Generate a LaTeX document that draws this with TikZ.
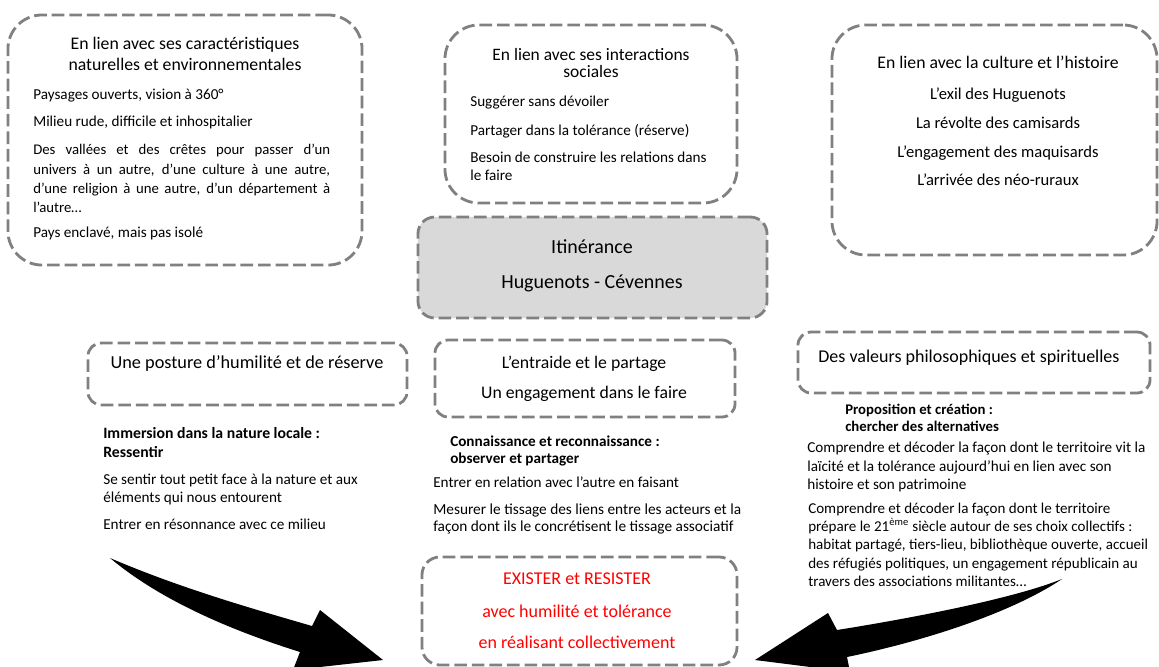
\documentclass[tikz,border=0pt]{standalone}
\usepackage{fontspec}
\setmainfont{Carlito}
\definecolor{boxgray}{HTML}{808080}
\definecolor{fillgray}{HTML}{D9D9D9}
\definecolor{redtxt}{HTML}{FF0000}

\begin{document}
\begin{tikzpicture}[x=0.025cm, y=-0.025cm,
  bigbox/.style={draw=boxgray, line width=2pt, dash pattern=on 9pt off 3.5pt, rounded corners=0.85cm},
  smallbox/.style={bigbox, rounded corners=0.33cm},
  greybox/.style={bigbox, fill=fillgray, rounded corners=0.42cm},
  redbox/.style={bigbox, rounded corners=0.45cm},
  head/.style={inner sep=0pt, align=center, anchor=north, font=\fontsize{12.6}{14.9}\selectfont},
  body/.style={inner sep=0pt, align=left, anchor=north west, font=\fontsize{10.8}{13.8}\selectfont},
  line/.style={inner sep=0pt, anchor=north, font=\fontsize{11.8}{13.8}\selectfont},
  lead/.style={body, font=\bfseries\fontsize{10.8}{13.5}\selectfont},
  redline/.style={head, text=redtxt, font=\fontsize{12.8}{15}\selectfont},
  bigarrow/.style={fill=black}
]
\useasboundingbox (0,0) rectangle (1159,666);

% the boxes
\node[bigbox, minimum width=8.85cm, minimum height=6.25cm] (nature) at (185,140) {};
\node[bigbox, minimum width=7.3cm, minimum height=4.45cm] (social) at (591,114) {};
\node[bigbox, minimum width=8.125cm, minimum height=5.75cm] (culture) at (994.5,140) {};
\node[greybox, minimum width=8.725cm, minimum height=2.525cm] (itin) at (592.5,267.5) {};
\node[smallbox, minimum width=7.975cm, minimum height=1.55cm] (posture) at (247.5,374) {};
\node[smallbox, minimum width=7.5cm, minimum height=1.925cm] (entraide) at (585,378.5) {};
\node[smallbox, minimum width=8.8cm, minimum height=1.525cm] (valeurs) at (974,362.5) {};
\node[redbox, minimum width=7.875cm, minimum height=2.7cm] (exister) at (579.5,611) {};

% nature
\node[head] (natH) at (185,37) {En lien avec ses caractéristiques\\naturelles et environnementales};
\node[body] (nat1) at (33,88.5) {Paysages ouverts, vision à 360°};
\node[body] (nat2) at (33,116) {Milieu rude, difficile et inhospitalier};
\node[body, font=\fontsize{10.5}{13.8}\selectfont] (nat3) at (33,144) {\makebox[7.42cm][s]{Des vallées et des crêtes pour passer d’un}\\
  \makebox[7.42cm][s]{univers à un autre, d’une culture à une autre,}\\
  \makebox[7.42cm][s]{d’une religion à une autre, d’un département à}\\
  l’autre…};
\node[body] (nat4) at (33,226.5) {Pays enclavé, mais pas isolé};

% social
\node[head, font=\fontsize{12.4}{12.2}\selectfont] (socH) at (591,48) {En lien avec ses interactions\\sociales};
\node[body] (soc1) at (470,96) {Suggérer sans dévoiler};
\node[body] (soc2) at (470,124) {Partager dans la tolérance (réserve)};
\node[body, font=\fontsize{10.8}{12.8}\selectfont] (soc3) at (470,152) {Besoin de construire les relations dans\\le faire};

% culture
\node[head] (culH) at (998,56) {En lien avec la culture et l’histoire};
\node[line] (cul1) at (998,88) {L’exil des Huguenots};
\node[line] (cul2) at (998,117) {La révolte des camisards};
\node[line] (cul3) at (998,146) {L’engagement des maquisards};
\node[line] (cul4) at (998,174) {L’arrivée des néo-ruraux};

% centre
\node[head, font=\fontsize{14.2}{15}\selectfont] (itin1) at (592,239.5) {Itinérance};
\node[head, font=\fontsize{14.2}{15}\selectfont] (itin2) at (592,274.5) {Huguenots - Cévennes};

% values
\node[head, font=\fontsize{13}{15}\selectfont] (post1) at (247,355) {Une posture d’humilité et de réserve};
\node[head] (entr1) at (584,356) {L’entraide et le partage};
\node[head] (entr2) at (584,386) {Un engagement dans le faire};
\node[head, font=\fontsize{12.8}{15}\selectfont] (val1) at (969,350) {Des valeurs philosophiques et spirituelles};

% lower left
\node[lead, font=\bfseries\fontsize{11.2}{13.5}\selectfont] (immL) at (103,427) {Immersion dans la nature locale :\\Ressentir};
\node[body, font=\fontsize{10.8}{12.8}\selectfont] (imm1) at (103,474) {Se sentir tout petit face à la nature et aux\\éléments qui nous entourent};
\node[body] (imm2) at (103,519) {Entrer en résonnance avec ce milieu};

% lower middle
\node[lead, font=\bfseries\fontsize{10.8}{12}\selectfont] (conL) at (450,436) {Connaissance et reconnaissance :\\observer et partager};
\node[body] (con1) at (433,477) {Entrer en relation avec l’autre en faisant};
\node[body, font=\fontsize{10.9}{12}\selectfont] (con2) at (433,504) {Mesurer le tissage des liens entre les acteurs et la\\façon dont ils le concrétisent le tissage associatif};

% lower right
\node[lead, font=\bfseries\fontsize{10.5}{12}\selectfont] (proL) at (845,404) {Proposition et création :\\chercher des alternatives};
\node[body, font=\fontsize{10.8}{13.1}\selectfont] (pro1) at (807,442) {Comprendre et décoder la façon dont le territoire vit la\\laïcité et la tolérance aujourd’hui en lien avec son\\histoire et son patrimoine};
\node[body, font=\fontsize{10.7}{13}\selectfont] (pro2) at (808,502.5) {Comprendre et décoder la façon dont le territoire\\prépare le 21\textsuperscript{ème} siècle autour de ses choix collectifs :\\habitat partagé, tiers-lieu, bibliothèque ouverte, accueil\\des réfugiés politiques, un engagement républicain au\\travers des associations militantes…};

% result
\node[redline] (res1) at (577,573) {EXISTER et RESISTER};
\node[redline] (res2) at (577,605) {avec humilité et tolérance};
\node[redline] (res3) at (577,636) {en réalisant collectivement};

% big arrows
\fill[bigarrow] (110,558) .. controls (180,588) and (250,608) .. (312,626) -- (320,610) -- (383,660)
  -- (293,670) -- (300,652) .. controls (230,630) and (160,600) .. cycle;
\fill[bigarrow] (1062,579) .. controls (1010,600) and (900,620) .. (837,630) -- (828,613) -- (755,660)
  -- (850,672) -- (847,657) .. controls (920,642) and (1010,614) .. cycle;
\end{tikzpicture}
\end{document}
